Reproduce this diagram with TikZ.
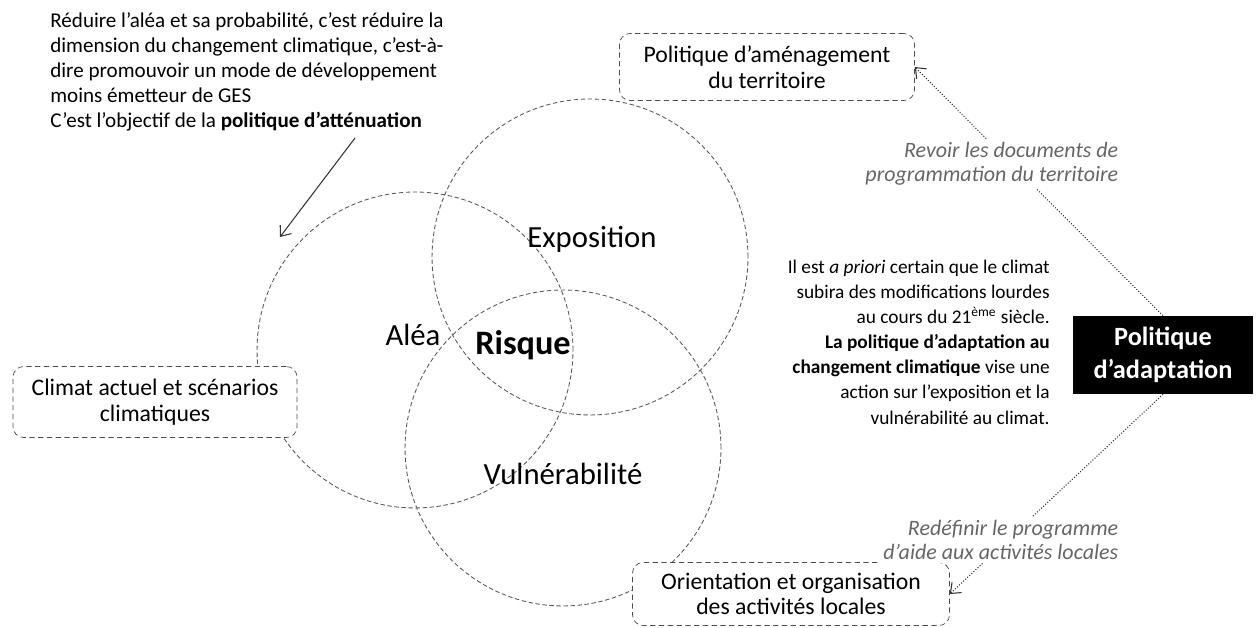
\documentclass[tikz,border=0pt]{standalone}
\usepackage{fontspec}
\setmainfont{Carlito}
\usetikzlibrary{arrows.meta}
\tikzset{
  zone/.style={circle, draw=black!65, dash pattern=on 2.5pt off 1.5pt,
    line width=0.5pt, minimum size=6.32cm, inner sep=0},
  zonelabel/.style={inner sep=0, font=\fontsize{17.5}{20}\selectfont},
  levier/.style={draw=black!70, densely dashed, rounded corners=6pt,
    fill=white, align=center, inner sep=0,
    font=\fontsize{13.5}{14.5}\selectfont},
  note/.style={inner sep=0, font=\fontsize{12}{14.2}\selectfont},
  action/.style={fill=white, inner sep=2pt, text=black!60, align=right,
    font=\fontsize{12.5}{13.6}\selectfont\itshape},
  lien/.style={black!80, densely dotted, line width=0.6pt,
    -{Straight Barb[length=5pt,width=8pt]}}
}
\begin{document}
\begin{tikzpicture}[x=0.02cm, y=-0.02cm]
  \useasboundingbox (0,0) rectangle (1257,628);

  % les trois composantes du risque
  \node[zone] (alea) at (415,350) {};
  \node[zone] (expo) at (590,257) {};
  \node[zone] (vuln) at (563,448) {};
  \node[zonelabel] (lalea) at (413,335) {Aléa};
  \node[zonelabel] (lexpo) at (592,239) {Exposition};
  \node[zonelabel] (lvuln) at (563,474) {Vulnérabilité};
  \node[inner sep=0, font=\fontsize{19.5}{22}\selectfont\bfseries]
    (risque) at (523,345) {Risque};

  % leviers
  \node[levier, minimum width=5.9cm, minimum height=1.34cm]
    (amenag) at (767,67) {Politique d’aménagement\\du territoire};
  \node[levier, minimum width=5.68cm, minimum height=1.42cm]
    (climat) at (155,402) {Climat actuel et scénarios\\climatiques};
  \node[levier, minimum width=6.34cm, minimum height=1.26cm]
    (activ) at (791,594) {Orientation et organisation\\des activités locales};
  \node[fill=black, text=white, minimum width=3.6cm, minimum height=1.56cm,
    inner sep=0, align=center, font=\fontsize{15}{19}\selectfont\bfseries]
    (adapt) at (1163,355) {Politique\\d’adaptation};

  % textes
  \node[note, anchor=west, align=left] (attenuation) at (50,72)
    {Réduire l’aléa et sa probabilité, c'est réduire la\\
     dimension du changement climatique, c'est-à-\\
     dire promouvoir un mode de développement\\
     moins émetteur de GES\\
     C’est l’objectif de la \textbf{politique d’atténuation}};
  \node[note, anchor=east, align=right, font=\fontsize{11}{14.3}\selectfont]
    (certain) at (1050,342)
    {Il est \textit{a priori} certain que le climat\\
     subira des modifications lourdes\\
     au cours du 21\textsuperscript{ème} siècle.\\
     \textbf{La politique d’adaptation au}\\
     \textbf{changement climatique} vise une\\
     action sur l’exposition et la\\
     vulnérabilité au climat.};

  \coordinate (att start) at (355,138);
  \coordinate (att end) at (280,237);
  \draw[black!80, line width=0.6pt, -{Straight Barb[length=5pt,width=8pt]}]
    (att start) -- (att end);

  \draw[lien] (adapt.north) -- (amenag.east);
  \draw[lien] (adapt.south) -- (activ.east);
  \node[action, anchor=east] (revoir) at (1122,164)
    {Revoir les documents de\\programmation du territoire};
  \node[action, anchor=east] (redef) at (1122,540)
    {Redéfinir le programme\\d’aide aux activités locales};
\end{tikzpicture}
\end{document}
